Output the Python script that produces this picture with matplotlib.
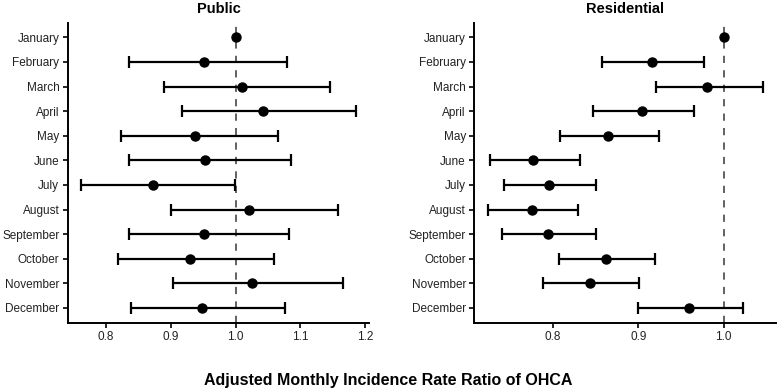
import numpy as np
import matplotlib
matplotlib.use("Agg")
import matplotlib.pyplot as plt

plt.rcParams['font.family'] = ['Liberation Sans', 'DejaVu Sans']

months = ["January", "February", "March", "April", "May", "June", "July",
          "August", "September", "October", "November", "December"]

# Public
pub_est = [1.000, 0.951, 1.010, 1.043, 0.937, 0.953, 0.872, 1.021, 0.951, 0.930, 1.026, 0.949]
pub_lo = [1.000, 0.836, 0.889, 0.918, 0.823, 0.836, 0.761, 0.900, 0.835, 0.818, 0.904, 0.838]
pub_hi = [1.000, 1.080, 1.146, 1.186, 1.065, 1.085, 0.999, 1.158, 1.082, 1.059, 1.166, 1.076]

# Residential
res_est = [1.000, 0.916, 0.981, 0.904, 0.864, 0.777, 0.795, 0.775, 0.794, 0.862, 0.843, 0.960]
res_lo = [1.000, 0.858, 0.921, 0.847, 0.808, 0.726, 0.743, 0.724, 0.741, 0.807, 0.789, 0.900]
res_hi = [1.000, 0.977, 1.046, 0.965, 0.924, 0.832, 0.851, 0.830, 0.850, 0.920, 0.901, 1.023]

fig = plt.figure(figsize=(7.77, 3.90), dpi=100)
ax1 = fig.add_axes([0.0871, 0.1726, 0.3879, 0.7694])
ax2 = fig.add_axes([0.6104, 0.1726, 0.3880, 0.7694])


def forest(ax, est, lo, hi, title, xlim, xticks):
    y = np.arange(len(months))
    est = np.array(est)
    err = np.vstack([est - np.array(lo), np.array(hi) - est])
    ax.axvline(1.0, color='#555555', linestyle=(0, (4, 4)), linewidth=1.3, zorder=1)
    ax.errorbar(est[1:], y[1:], xerr=err[:, 1:], fmt='none', ecolor='black',
                elinewidth=1.6, capsize=4.2, capthick=1.6, zorder=2)
    ax.plot(est, y, 'o', color='black', markersize=6.5, zorder=3)
    ax.set_ylim(11.6, -0.6)
    ax.set_xlim(*xlim)
    ax.set_yticks(y)
    ax.set_yticklabels(months)
    ax.set_xticks(xticks)
    ax.set_xticklabels([f"{t:.1f}" for t in xticks])
    ax.set_title(title, fontsize=10.5, fontweight='bold', pad=7)
    for s in ['top', 'right']:
        ax.spines[s].set_visible(False)
    for s in ['left', 'bottom']:
        ax.spines[s].set_linewidth(1.4)
    ax.tick_params(axis='both', labelsize=8.5, labelcolor='#222222',
                   width=1.2, length=3.5, pad=2.5)


forest(ax1, pub_est, pub_lo, pub_hi, "Public", (0.741, 1.206), [0.8, 0.9, 1.0, 1.1, 1.2])
forest(ax2, res_est, res_lo, res_hi, "Residential", (0.708, 1.061), [0.8, 0.9, 1.0])

fig.text(0.5, 0.005, "Adjusted Monthly Incidence Rate Ratio of OHCA",
         ha='center', va='bottom', fontsize=11.5, fontweight='bold')

fig.savefig("out.png", dpi=100)
